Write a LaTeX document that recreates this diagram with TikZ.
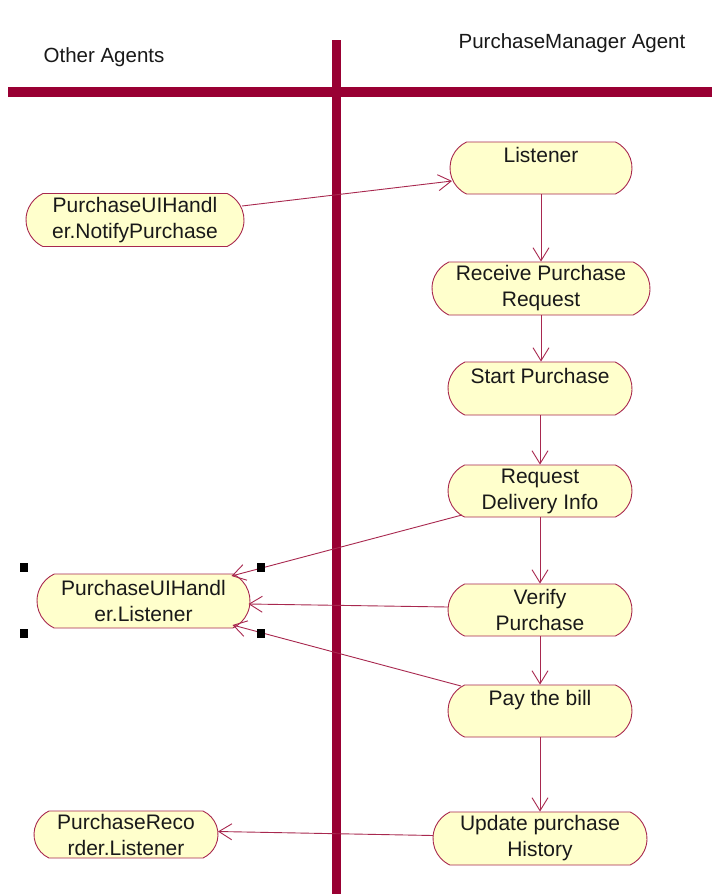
\documentclass[tikz,border=0pt]{standalone}
\usepackage{fontspec}
\setmainfont{Liberation Sans}
\usetikzlibrary{arrows.meta,calc,shapes.misc}
\definecolor{lanebar}{HTML}{990033}
\definecolor{actfill}{HTML}{FFFFCC}
\definecolor{actline}{HTML}{A8284F}
\tikzset{
  activity/.style={rounded rectangle, rounded rectangle arc length=130,
    draw=actline, fill=actfill, line width=0.9pt,
    inner sep=0pt, align=center, font=\fontsize{21}{26}\selectfont, text=black!90},
  flow/.style={draw=actline, line width=0.9pt,
    -{Straight Barb[length=13pt,width=16pt,line width=0.9pt]}},
  lanebar/.style={draw=lanebar, line width=9.5pt},
  handle/.style={fill=black, draw=none},
  lanetitle/.style={font=\fontsize{20.5}{24}\selectfont, text=black!90}
}
\begin{document}
\begin{tikzpicture}[x=1pt,y=-1pt]
  \useasboundingbox[fill=white] (0,0) rectangle (712,894);

  % swimlane separators
  \draw[lanebar] (8,92) -- (712,92);
  \draw[lanebar] (336.5,40) -- (336.5,894);

  % lane titles
  \node[lanetitle] (t1) at (104,57) {Other Agents};
  \node[lanetitle] (t2) at (572,43) {PurchaseManager Agent};

  % activities
  \node[activity, minimum width=182pt, minimum height=52pt] (lis)   at (541,168)   {Listener\\\mbox{}};
  \node[activity, minimum width=218pt, minimum height=53pt] (nup)   at (135,220)   {PurchaseUIHandl\\er.NotifyPurchase};
  \node[activity, minimum width=218pt, minimum height=53pt] (rec)   at (541,288.5) {Receive Purchase\\Request};
  \node[activity, minimum width=184pt, minimum height=53pt] (start) at (540,388.5) {Start Purchase\\\mbox{}};
  \node[activity, minimum width=184pt, minimum height=52pt] (req)   at (540,491)   {Request\\Delivery Info};
  \node[activity, minimum width=213pt, minimum height=54pt] (puil)  at (143.5,601) {PurchaseUIHandl\\er.Listener};
  \node[activity, minimum width=184pt, minimum height=52pt] (ver)   at (540,610)   {Verify\\Purchase};
  \node[activity, minimum width=184pt, minimum height=52pt] (pay)   at (540,711)   {Pay the bill\\\mbox{}};
  \node[activity, minimum width=184pt, minimum height=47pt] (prl)   at (126,834.5) {PurchaseReco\\rder.Listener};
  \node[activity, minimum width=214pt, minimum height=53pt] (upd)   at (540,838.5) {Update purchase\\History};

  % control flow inside the PurchaseManager lane
  \draw[flow] (lis.south -| rec.north) -- (rec.north);
  \draw[flow] (rec.south) -- (rec.south |- start.north);
  \draw[flow] (start.south) -- (start.south |- req.north);
  \draw[flow] (req.south) -- (ver.north);
  \draw[flow] (ver.south) -- (pay.north);
  \draw[flow] (pay.south) -- (upd.north);

  % messages between lanes
  \draw[flow] ($(nup.center)+(107,-14)$) -- ($(lis.center)+(-89,13)$);
  \draw[flow] ($(req.center)+(-78,24)$) -- ($(puil.center)+(88,-25)$);
  \draw[flow] ($(ver.center)+(-92,-3)$) -- ($(puil.center)+(105,3)$);
  \draw[flow] ($(pay.center)+(-79,-25)$) -- ($(puil.center)+(89,24)$);
  \draw[flow] ($(upd.center)+(-107,-3)$) -- ($(prl.center)+(92,-3)$);

  % selection handles around the selected activity
  \fill[handle] (20,563) rectangle (28,572);
  \fill[handle] (257,563) rectangle (265,572);
  \fill[handle] (20,629) rectangle (28,638);
  \fill[handle] (257,629) rectangle (265,638);
\end{tikzpicture}
\end{document}
